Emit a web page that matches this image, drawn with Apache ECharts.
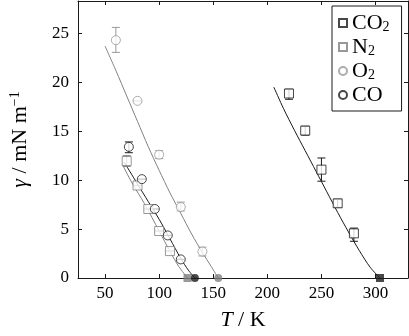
<!DOCTYPE html>
<html>
<head>
<meta charset="utf-8">
<script src="https://cdn.jsdelivr.net/npm/echarts@6/dist/echarts.min.js"></script>
<style>
  html, body { margin: 0; padding: 0; background: #fff; }
  #main { width: 409px; height: 336px; }
</style>
</head>
<body>
<div id="main"></div>
<script>
// measured points (T in K, gamma in mN/m)
var co2T = [220, 235, 250, 265, 280];
var co2G = [18.85, 15.06, 11.07, 7.63, 4.56];
var co2Lo = [18.26, 14.6, 9.89, 7.22, 3.75];
var co2Hi = [19.28, 15.5, 12.26, 8.03, 5.1];

var n2T = [70, 80, 90, 100, 110];
var n2G = [11.95, 9.45, 7.05, 4.8, 2.75];
var n2Lo = [11.4, 9.45, 7.05, 4.8, 2.75];
var n2Hi = [12.5, 9.45, 7.05, 4.8, 2.75];

var o2T = [60, 80, 100, 120, 140];
var o2G = [24.3, 18.1, 12.6, 7.25, 2.7];
var o2Lo = [23.05, 18.1, 12.2, 6.85, 2.25];
var o2Hi = [25.6, 18.1, 13.0, 7.75, 3.15];

var coT = [72, 84, 96, 108, 120];
var coG = [13.4, 10.1, 7.05, 4.35, 1.9];
var coLo = [12.8, 10.1, 7.05, 4.35, 1.9];
var coHi = [13.9, 10.1, 7.05, 4.35, 1.9];

// critical points (gamma = 0)
var tcNames = ['CO2', 'N2', 'O2', 'CO'];
var tcT = [304.1, 126.2, 154.6, 133];

// model curves
var co2LineT = [206, 215, 225, 235, 245, 255, 265, 275, 285, 295, 304.1];
var co2LineG = [19.5, 17.3, 15.1, 13.0, 10.9, 8.8, 6.7, 4.7, 2.8, 1.1, 0];
var n2LineT = [66, 75, 86.4, 100, 110.6, 118, 126.2];
var n2LineG = [11.6, 9.7, 7.6, 4.8, 2.6, 1.2, 0];
var o2LineT = [50, 60, 70, 80, 90, 100, 110, 120, 130, 140, 148, 154.6];
var o2LineG = [23.7, 21.2, 18.6, 16.0, 13.4, 11.0, 8.7, 6.6, 4.5, 2.6, 1.2, 0];
var coLineT = [67.6, 80, 90, 100, 110, 120, 127, 133];
var coLineG = [11.85, 9.6, 7.8, 6.0, 4.0, 2.0, 0.8, 0];

var xTicks = [50, 100, 150, 200, 250, 300];
var yTicks = [0, 5, 10, 15, 20, 25];

var BLACK = '#1a1a1a';
var GRAY = '#808080';
var LIGHT = '#999999';
var FONT = 'Liberation Serif';

function zip(a, b, c) {
  return a.map(function (v, i) { return c ? [v, b[i], c[i]] : [v, b[i]]; });
}

function errSeries(t, lo, hi, color) {
  return {
    type: 'custom',
    data: zip(t, lo, hi),
    z: 2,
    silent: true,
    renderItem: function (params, api) {
      var x = api.value(0);
      var p1 = api.coord([x, api.value(1)]);
      var p2 = api.coord([x, api.value(2)]);
      var w = 4;
      var st = { stroke: color, lineWidth: 1 };
      return {
        type: 'group',
        children: [
          { type: 'line', shape: { x1: p1[0], y1: p1[1], x2: p2[0], y2: p2[1] }, style: st },
          { type: 'line', shape: { x1: p1[0] - w, y1: p1[1], x2: p1[0] + w, y2: p1[1] }, style: st },
          { type: 'line', shape: { x1: p2[0] - w, y1: p2[1], x2: p2[0] + w, y2: p2[1] }, style: st }
        ]
      };
    }
  };
}

function lineSeries(t, g, color) {
  return {
    type: 'line',
    data: zip(t, g),
    showSymbol: false,
    smooth: 0.3,
    z: 1,
    silent: true,
    lineStyle: { color: color, width: 1 }
  };
}

function markSeries(name, t, g, symbol, color) {
  return {
    name: name,
    type: 'scatter',
    data: zip(t, g),
    symbol: symbol,
    symbolSize: 9,
    z: 3,
    itemStyle: { color: '#fff', borderColor: color, borderWidth: 1 }
  };
}

function tcSeries(i, symbol, color, size) {
  return {
    type: 'scatter',
    data: [[tcT[i], 0]],
    symbol: symbol,
    symbolSize: size,
    z: 4,
    itemStyle: { color: color }
  };
}

var legendLabels = {
  CO2: '{a|CO}{s|2}',
  N2: '{a|N}{s|2}',
  O2: '{a|O}{s|2}',
  CO: '{a|CO}'
};

var tickStyle = { inside: true, length: 4, lineStyle: { color: BLACK } };
var labelFont = { fontFamily: FONT, fontSize: 17, color: '#000' };

var option = {
  animation: false,
  textStyle: { fontFamily: FONT },
  grid: { left: 73, right: 1, top: 1, bottom: 56 },
  legend: {
    orient: 'vertical',
    left: 332,
    top: 6,
    padding: [6, 12, 5, 6],
    itemWidth: 8,
    itemHeight: 8,
    itemGap: 2,
    backgroundColor: '#fff',
    borderColor: BLACK,
    borderWidth: 1,
    borderRadius: 0,
    data: tcNames,
    formatter: function (name) { return legendLabels[name]; },
    textStyle: {
      color: '#000',
      fontFamily: FONT,
      rich: {
        a: { fontSize: 22, fontFamily: FONT, color: '#000', lineHeight: 22 },
        s: { fontSize: 14, fontFamily: FONT, color: '#000', lineHeight: 14, verticalAlign: 'bottom' }
      }
    }
  },
  xAxis: [
    {
      type: 'value', min: 25, max: 330,
      name: '{i|T} / K',
      nameLocation: 'middle',
      nameGap: 31,
      nameTextStyle: {
        fontFamily: FONT, fontSize: 22, color: '#000',
        rich: { i: { fontFamily: FONT, fontSize: 22, fontStyle: 'italic', color: '#000' } }
      },
      axisLine: { onZero: false, lineStyle: { color: BLACK, width: 1 } },
      axisTick: Object.assign({ customValues: xTicks }, tickStyle),
      axisLabel: Object.assign({ customValues: xTicks, margin: 7 }, labelFont),
      splitLine: { show: false }
    },
    {
      type: 'value', min: 25, max: 330, position: 'top',
      axisLine: { onZero: false, lineStyle: { color: BLACK, width: 1 } },
      axisTick: Object.assign({ customValues: xTicks }, tickStyle),
      axisLabel: { show: false },
      splitLine: { show: false }
    }
  ],
  yAxis: [
    {
      type: 'value', min: 0, max: 28.3,
      name: '{g|γ} / mN m{sup|−1}',
      nameLocation: 'middle',
      nameGap: 46,
      nameTextStyle: {
        fontFamily: FONT, fontSize: 22, color: '#000',
        rich: {
          g: { fontFamily: FONT, fontSize: 22, fontStyle: 'italic', color: '#000' },
          sup: { fontFamily: FONT, fontSize: 14, color: '#000', padding: [0, 0, 10, 0] }
        }
      },
      axisLine: { onZero: false, lineStyle: { color: BLACK, width: 1 } },
      axisTick: Object.assign({ customValues: yTicks }, tickStyle),
      axisLabel: Object.assign({ customValues: yTicks, margin: 9 }, labelFont),
      splitLine: { show: false }
    },
    {
      type: 'value', min: 0, max: 28.3, position: 'right',
      axisLine: { onZero: false, lineStyle: { color: BLACK, width: 1 } },
      axisTick: Object.assign({ customValues: yTicks }, tickStyle),
      axisLabel: { show: false },
      splitLine: { show: false }
    }
  ],
  series: [
    lineSeries(co2LineT, co2LineG, BLACK),
    lineSeries(n2LineT, n2LineG, GRAY),
    lineSeries(o2LineT, o2LineG, GRAY),
    lineSeries(coLineT, coLineG, BLACK),
    errSeries(co2T, co2Lo, co2Hi, BLACK),
    errSeries(n2T, n2Lo, n2Hi, GRAY),
    errSeries(o2T, o2Lo, o2Hi, LIGHT),
    errSeries(coT, coLo, coHi, BLACK),
    markSeries('CO2', co2T, co2G, 'rect', BLACK),
    markSeries('N2', n2T, n2G, 'rect', GRAY),
    markSeries('O2', o2T, o2G, 'circle', LIGHT),
    markSeries('CO', coT, coG, 'circle', BLACK),
    tcSeries(0, 'rect', BLACK, 8),
    tcSeries(1, 'rect', GRAY, 8),
    tcSeries(2, 'circle', GRAY, 8),
    tcSeries(3, 'circle', BLACK, 8)
  ]
};

var myChart = echarts.init(document.getElementById('main'));
myChart.setOption(option);
</script>
</body>
</html>
